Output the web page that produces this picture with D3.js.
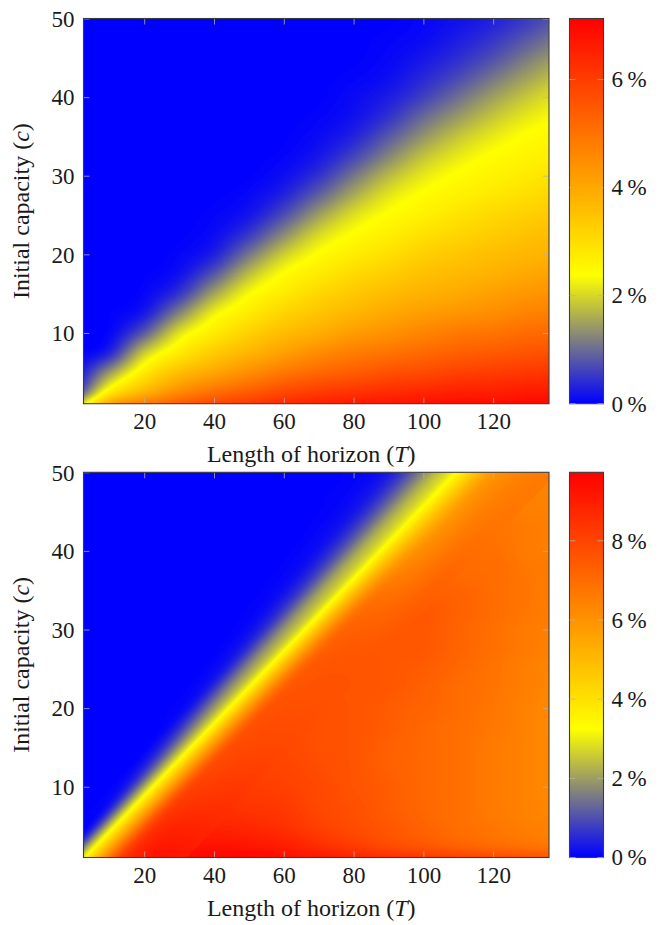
<!DOCTYPE html>
<html>
<head>
<meta charset="utf-8">
<script src="https://cdn.jsdelivr.net/npm/d3@7"></script>
<style>
  body { margin: 0; background: #fff; }
  svg { display: block; font-family: "Liberation Serif", "DejaVu Serif", serif; }
</style>
</head>
<body>
<svg id="chart" width="660" height="925"></svg>
<script>
// grid of the heat maps: one column per horizon T, one row per capacity c
const horizons = [0, 10, 20, 30, 40, 50, 60, 70, 80, 90, 100, 110, 120, 130, 140]
const capacities = [0, 2.5, 5, 7.5, 10, 12.5, 15, 17.5, 20, 22.5, 25, 27.5, 30, 32.5, 35, 37.5, 40, 42.5, 45, 47.5, 50]

const xTicks = [20, 40, 60, 80, 100, 120]
const yTicks = [10, 20, 30, 40, 50]
const topBarTicks = [0, 2, 4, 6]
const bottomBarTicks = [0, 2, 4, 6, 8]

// values in %, each inner array is one horizon, going up from c = 0 to c = 50
const gapTop = [
  [2.4, 0.3, 0, 0, 0, 0, 0, 0, 0, 0, 0, 0, 0, 0, 0, 0, 0, 0, 0, 0, 0],
  [5.0, 2.75, 1.39, 0.21, 0, 0, 0, 0, 0, 0, 0, 0, 0, 0, 0, 0, 0, 0, 0, 0, 0],
  [5.6, 3.76, 2.77, 1.93, 0.8, 0.16, 0.02, 0, 0, 0, 0, 0, 0, 0, 0, 0, 0, 0, 0, 0, 0],
  [6.0, 4.52, 3.6, 2.74, 2.16, 1.23, 0.44, 0.1, 0.02, 0, 0, 0, 0, 0, 0, 0, 0, 0, 0, 0, 0],
  [6.3, 5.05, 4.03, 3.36, 2.73, 2.29, 1.55, 0.77, 0.26, 0.07, 0.02, 0, 0, 0, 0, 0, 0, 0, 0, 0, 0],
  [6.5, 5.43, 4.48, 3.74, 3.25, 2.75, 2.38, 1.8, 1.08, 0.5, 0.18, 0.06, 0.01, 0, 0, 0, 0, 0, 0, 0, 0],
  [6.7, 5.79, 4.89, 4.15, 3.63, 3.2, 2.73, 2.42, 1.93, 1.29, 0.7, 0.3, 0.11, 0.04, 0.01, 0, 0, 0, 0, 0, 0],
  [6.85, 6.05, 5.2, 4.53, 3.9, 3.5, 3.14, 2.74, 2.42, 2.05, 1.47, 0.9, 0.45, 0.2, 0.08, 0.03, 0, 0, 0, 0, 0],
  [6.95, 6.17, 5.4, 4.8, 4.21, 3.75, 3.41, 3.07, 2.7, 2.43, 2.1, 1.6, 1.09, 0.62, 0.32, 0.15, 0.07, 0.03, 0, 0, 0],
  [7.0, 6.31, 5.61, 4.97, 4.41, 4.0, 3.63, 3.3, 2.96, 2.66, 2.43, 2.16, 1.72, 1.24, 0.81, 0.46, 0.24, 0.11, 0.06, 0.02, 0],
  [7.05, 6.44, 5.74, 5.18, 4.67, 4.2, 3.83, 3.55, 3.27, 2.94, 2.64, 2.44, 2.19, 1.81, 1.38, 0.97, 0.59, 0.36, 0.19, 0.09, 0.05],
  [7.1, 6.53, 5.92, 5.35, 4.88, 4.36, 3.98, 3.7, 3.44, 3.16, 2.88, 2.62, 2.43, 2.19, 1.84, 1.43, 1.04, 0.68, 0.41, 0.24, 0.13],
  [7.1, 6.53, 6.01, 5.45, 4.98, 4.5, 4.17, 3.84, 3.61, 3.32, 3.09, 2.8, 2.59, 2.42, 2.19, 1.85, 1.47, 1.09, 0.74, 0.47, 0.28],
  [7.13, 6.66, 6.09, 5.56, 5.14, 4.71, 4.33, 3.99, 3.76, 3.52, 3.28, 2.99, 2.76, 2.57, 2.42, 2.19, 1.86, 1.5, 1.14, 0.8, 0.52],
  [7.13, 6.66, 6.16, 5.64, 5.21, 4.79, 4.46, 4.13, 3.84, 3.65, 3.42, 3.21, 2.95, 2.71, 2.55, 2.39, 2.18, 1.87, 1.52, 1.16, 0.84]
]

const gapBottom = [
  [3.3, 0.2, 0, 0, 0, 0, 0, 0, 0, 0, 0, 0, 0, 0, 0, 0, 0, 0, 0, 0, 0],
  [8.6, 6.0, 1.94, 0.11, 0, 0, 0, 0, 0, 0, 0, 0, 0, 0, 0, 0, 0, 0, 0, 0, 0],
  [9.5, 8.9, 7.9, 4.28, 2.12, 0.28, 0, 0, 0, 0, 0, 0, 0, 0, 0, 0, 0, 0, 0, 0, 0],
  [9.6, 9.2, 8.6, 8.1, 7.3, 3.67, 1.88, 0.34, 0.03, 0, 0, 0, 0, 0, 0, 0, 0, 0, 0, 0, 0],
  [9.73, 9.3, 8.8, 8.5, 8.2, 7.8, 6.6, 3.3, 1.76, 0.43, 0.06, 0, 0, 0, 0, 0, 0, 0, 0, 0, 0],
  [9.7, 9.2, 8.7, 8.4, 8.2, 8.0, 7.8, 7.5, 6.4, 2.97, 1.76, 0.56, 0.1, 0, 0, 0, 0, 0, 0, 0, 0],
  [9.6, 9.0, 8.5, 8.3, 8.1, 8.0, 7.9, 7.8, 7.7, 7.4, 6.3, 2.82, 1.9, 0.7, 0.16, 0.03, 0, 0, 0, 0, 0],
  [9.5, 8.6, 8.1, 7.9, 7.9, 7.8, 7.7, 7.7, 7.7, 7.6, 7.5, 7.2, 6.4, 3.11, 2.12, 0.94, 0.28, 0.06, 0, 0, 0],
  [9.3, 8.2, 7.8, 7.7, 7.6, 7.6, 7.6, 7.6, 7.6, 7.6, 7.6, 7.5, 7.4, 7.0, 6.1, 2.99, 2.18, 1.08, 0.36, 0.1, 0.02],
  [9.1, 7.8, 7.5, 7.4, 7.4, 7.3, 7.3, 7.4, 7.4, 7.5, 7.5, 7.5, 7.5, 7.4, 7.2, 6.7, 5.4, 2.7, 2.14, 1.11, 0.42],
  [8.9, 7.5, 7.2, 7.1, 7.1, 7.1, 7.1, 7.1, 7.2, 7.3, 7.4, 7.5, 7.5, 7.5, 7.3, 6.9, 6.4, 5.6, 3.9, 2.63, 1.95],
  [8.7, 7.2, 6.9, 6.9, 6.9, 6.9, 6.9, 6.9, 7.0, 7.0, 7.1, 7.2, 7.2, 7.3, 7.2, 7.0, 6.8, 6.5, 6.0, 5.2, 3.39],
  [8.5, 7.0, 6.7, 6.6, 6.6, 6.6, 6.6, 6.7, 6.7, 6.8, 6.8, 6.9, 6.9, 7.0, 7.0, 7.0, 6.9, 6.8, 6.6, 6.3, 5.8],
  [8.3, 6.8, 6.5, 6.4, 6.4, 6.4, 6.4, 6.4, 6.4, 6.5, 6.5, 6.6, 6.6, 6.7, 6.7, 6.7, 6.6, 6.6, 6.5, 6.4, 6.3],
  [8.1, 6.6, 6.4, 6.3, 6.2, 6.2, 6.2, 6.2, 6.2, 6.3, 6.3, 6.4, 6.5, 6.5, 6.6, 6.6, 6.5, 6.5, 6.5, 6.4, 6.3]
]

// lower map, finer samples along its sharp diagonal edge c = 0.46 T:
// one array per horizon, offsets measured in c from that line
const ridgeSlope = 0.46
const bandHorizons = [0, 20, 40, 60, 80, 100, 120, 140]
const bandOffsets = [-12.5, -10, -7.5, -5, -2.5, 0, 2.5, 5, 7.5, 10, 12.5]
const bandBottom = [
  [9.0, 9.0, 8.8, 8.0, 5.6, 2.92, 0.06, 0, 0, 0, 0],
  [9.6, 9.5, 9.1, 8.2, 5.6, 2.92, 0.76, 0.05, 0, 0, 0],
  [8.7, 8.4, 8.1, 7.7, 5.5, 2.93, 1.49, 0.32, 0.04, 0, 0],
  [7.9, 7.8, 7.7, 7.4, 5.4, 2.95, 1.88, 0.7, 0.16, 0.03, 0],
  [7.6, 7.55, 7.4, 7.0, 5.2, 2.97, 2.12, 1.03, 0.34, 0.1, 0.02],
  [7.4, 7.0, 6.5, 5.9, 4.6, 3.05, 2.3, 1.32, 0.56, 0.19, 0.06],
  [6.8, 6.6, 6.3, 5.8, 4.5, 3.07, 2.38, 1.45, 0.68, 0.25, 0.09],
  [6.6, 6.4, 6.2, 5.7, 4.5, 3.07, 2.4, 1.5, 0.72, 0.28, 0.1]
]

const svg = d3.select('#chart')
const plot = {left: 83.5, width: 465.5, height: 385.2}
const bar = {left: 569.5, width: 34}
const tickFont = 23
const titleFont = 24

const panels = [
  {id: 'a', top: 18.5, data: gapTop, barTicks: topBarTicks},
  {id: 'b', top: 472.3, data: gapBottom, barTicks: bottomBarTicks, band: bandBottom}
]
const defs = svg.append('defs')

panels.forEach(drawPanel)

// put a grid of values into a tiny gray canvas (row 0 = top)
function grayCanvas (cols, vmax) {
  const nx = cols.length
  const ny = cols[0].length
  const cv = document.createElement('canvas')
  cv.width = nx
  cv.height = ny
  const cx = cv.getContext('2d')
  const cells = cx.createImageData(nx, ny)
  cols.forEach((col, i) => col.forEach((v, j) => {
    const k = ((ny - 1 - j) * nx + i) * 4
    const g = Math.round(v / vmax * 255)
    cells.data[k] = cells.data[k + 1] = cells.data[k + 2] = g
    cells.data[k + 3] = 255
  }))
  cx.putImageData(cells, 0, 0)
  return cv
}

function drawPanel (p) {
  const bottom = p.top + plot.height
  const x = d3.scaleLinear().domain([2.6, 136]).range([plot.left, plot.left + plot.width])
  const y = d3.scaleLinear().domain([1, 50]).range([bottom, p.top])
  const vmax = d3.max(p.data, col => d3.max(col))
  const color = d3.scaleLinear()
    .domain([0, vmax / 3, vmax])
    .range(['#0000ff', '#ffff00', '#ff0000'])
    .clamp(true)

  // the browser smooths the gray grid up to plot size, then every pixel
  // goes through the colour map (like pgfplots shader=interp)
  const W = Math.round(plot.width)
  const H = Math.round(plot.height)
  const big = document.createElement('canvas')
  big.width = W
  big.height = H
  const ctx = big.getContext('2d')
  ctx.imageSmoothingEnabled = true
  ctx.imageSmoothingQuality = 'high'

  const nx = horizons.length
  const ny = capacities.length
  const dT = horizons[1] - horizons[0]
  const dc = capacities[1] - capacities[0]
  const x0 = x(horizons[0] - dT / 2) - plot.left
  const x1 = x(horizons[nx - 1] + dT / 2) - plot.left
  const y0 = y(capacities[ny - 1] + dc / 2) - p.top
  const y1 = y(capacities[0] - dc / 2) - p.top
  ctx.drawImage(grayCanvas(p.data, vmax), x0, y0, x1 - x0, y1 - y0)

  if (p.band) {
    // sheared grid that follows the diagonal edge
    const ax = x(1) - x(0)
    const bx = x(0) - plot.left
    const ay = y(1) - y(0)
    const by = y(0) - p.top
    const bT = bandHorizons[1] - bandHorizons[0]
    const du = bandOffsets[1] - bandOffsets[0]
    const T0 = bandHorizons[0] - bT / 2
    const uTop = bandOffsets[bandOffsets.length - 1] + du / 2
    ctx.setTransform(
      ax * bT, ay * ridgeSlope * bT,
      0, -ay * du,
      ax * T0 + bx, ay * uTop + ay * ridgeSlope * T0 + by
    )
    ctx.drawImage(grayCanvas(p.band, vmax), 0, 0)
    ctx.setTransform(1, 0, 0, 1, 0, 0)
  }

  const lut = d3.range(256).map(g => d3.rgb(color(g / 255 * vmax)))
  const px = ctx.getImageData(0, 0, W, H)
  for (let k = 0; k < px.data.length; k += 4) {
    const c = lut[px.data[k]]
    px.data[k] = c.r
    px.data[k + 1] = c.g
    px.data[k + 2] = c.b
    px.data[k + 3] = 255
  }
  ctx.putImageData(px, 0, 0)

  const g = svg.append('g').attr('class', 'panel-' + p.id)

  g.append('image')
    .attr('x', plot.left)
    .attr('y', p.top)
    .attr('width', plot.width)
    .attr('height', plot.height)
    .attr('preserveAspectRatio', 'none')
    .attr('href', big.toDataURL())

  // ticks on all four sides, pointing inwards
  const tickStyle = sel => {
    sel.select('.domain').remove()
    sel.selectAll('.tick line').attr('stroke', '#b4b4b4').attr('stroke-width', 1).attr('opacity', 0.75)
    sel.selectAll('text')
      .attr('fill', '#1a1a1a')
      .style('font-size', tickFont + 'px')
      .style('font-family', '"Liberation Serif", "DejaVu Serif", serif')
  }

  g.append('g')
    .attr('transform', 'translate(0,' + bottom + ')')
    .call(d3.axisBottom(x).tickValues(xTicks).tickSizeInner(-6).tickSizeOuter(0))
    .call(tickStyle)
    .call(s => s.selectAll('text').attr('y', 25).attr('dy', null))

  g.append('g')
    .attr('transform', 'translate(0,' + p.top + ')')
    .call(d3.axisTop(x).tickValues(xTicks).tickSizeInner(-6).tickSizeOuter(0).tickFormat(''))
    .call(tickStyle)

  g.append('g')
    .attr('transform', 'translate(' + plot.left + ',0)')
    .call(d3.axisLeft(y).tickValues(yTicks).tickSizeInner(-6).tickSizeOuter(0))
    .call(tickStyle)
    .call(s => s.selectAll('text').attr('x', -9).attr('dy', '0.34em'))

  g.append('g')
    .attr('transform', 'translate(' + (plot.left + plot.width) + ',0)')
    .call(d3.axisRight(y).tickValues(yTicks).tickSizeInner(-6).tickSizeOuter(0).tickFormat(''))
    .call(tickStyle)

  g.append('rect')
    .attr('x', plot.left)
    .attr('y', p.top)
    .attr('width', plot.width)
    .attr('height', plot.height)
    .attr('fill', 'none')
    .attr('stroke', '#3c3c3c')
    .attr('stroke-width', 1.1)

  // axis titles
  const xt = g.append('text')
    .attr('x', plot.left + plot.width / 2 - 5)
    .attr('y', bottom + 58)
    .attr('text-anchor', 'middle')
    .attr('fill', '#1a1a1a')
    .style('font-size', titleFont + 'px')
  xt.append('tspan').text('Length of horizon (')
  xt.append('tspan').style('font-style', 'italic').text('T')
  xt.append('tspan').text(')')

  const yt = g.append('text')
    .attr('transform', 'translate(29,' + (p.top + plot.height / 2) + ') rotate(-90)')
    .attr('text-anchor', 'middle')
    .attr('fill', '#1a1a1a')
    .style('font-size', titleFont + 'px')
  yt.append('tspan').text('Initial capacity (')
  yt.append('tspan').style('font-style', 'italic').text('c')
  yt.append('tspan').text(')')

  // colour bar
  const yb = d3.scaleLinear().domain([0, vmax]).range([bottom, p.top])
  const grad = defs.append('linearGradient')
    .attr('id', 'grad-' + p.id)
    .attr('x1', 0).attr('y1', 1).attr('x2', 0).attr('y2', 0)
  grad.selectAll('stop')
    .data(color.domain())
    .enter()
    .append('stop')
    .attr('offset', d => d / vmax)
    .attr('stop-color', d => color(d))

  g.append('rect')
    .attr('x', bar.left)
    .attr('y', p.top)
    .attr('width', bar.width)
    .attr('height', plot.height)
    .attr('fill', 'url(#grad-' + p.id + ')')
    .attr('stroke', '#3c3c3c')
    .attr('stroke-width', 1.1)

  const bt = g.selectAll('.bar-tick')
    .data(p.barTicks)
    .enter()
    .append('g')
    .attr('class', 'bar-tick')
    .attr('transform', d => 'translate(0,' + yb(d) + ')')
  bt.append('line')
    .attr('x1', bar.left).attr('x2', bar.left + 6)
    .attr('stroke', '#b4b4b4').attr('opacity', 0.75)
  bt.append('line')
    .attr('x1', bar.left + bar.width - 6).attr('x2', bar.left + bar.width)
    .attr('stroke', '#b4b4b4').attr('opacity', 0.75)
  bt.append('text')
    .attr('x', bar.left + bar.width + 8)
    .attr('dy', '0.34em')
    .attr('fill', '#1a1a1a')
    .style('font-size', tickFont + 'px')
    .text(d => d + '\u2009%')
}
</script>
</body>
</html>
